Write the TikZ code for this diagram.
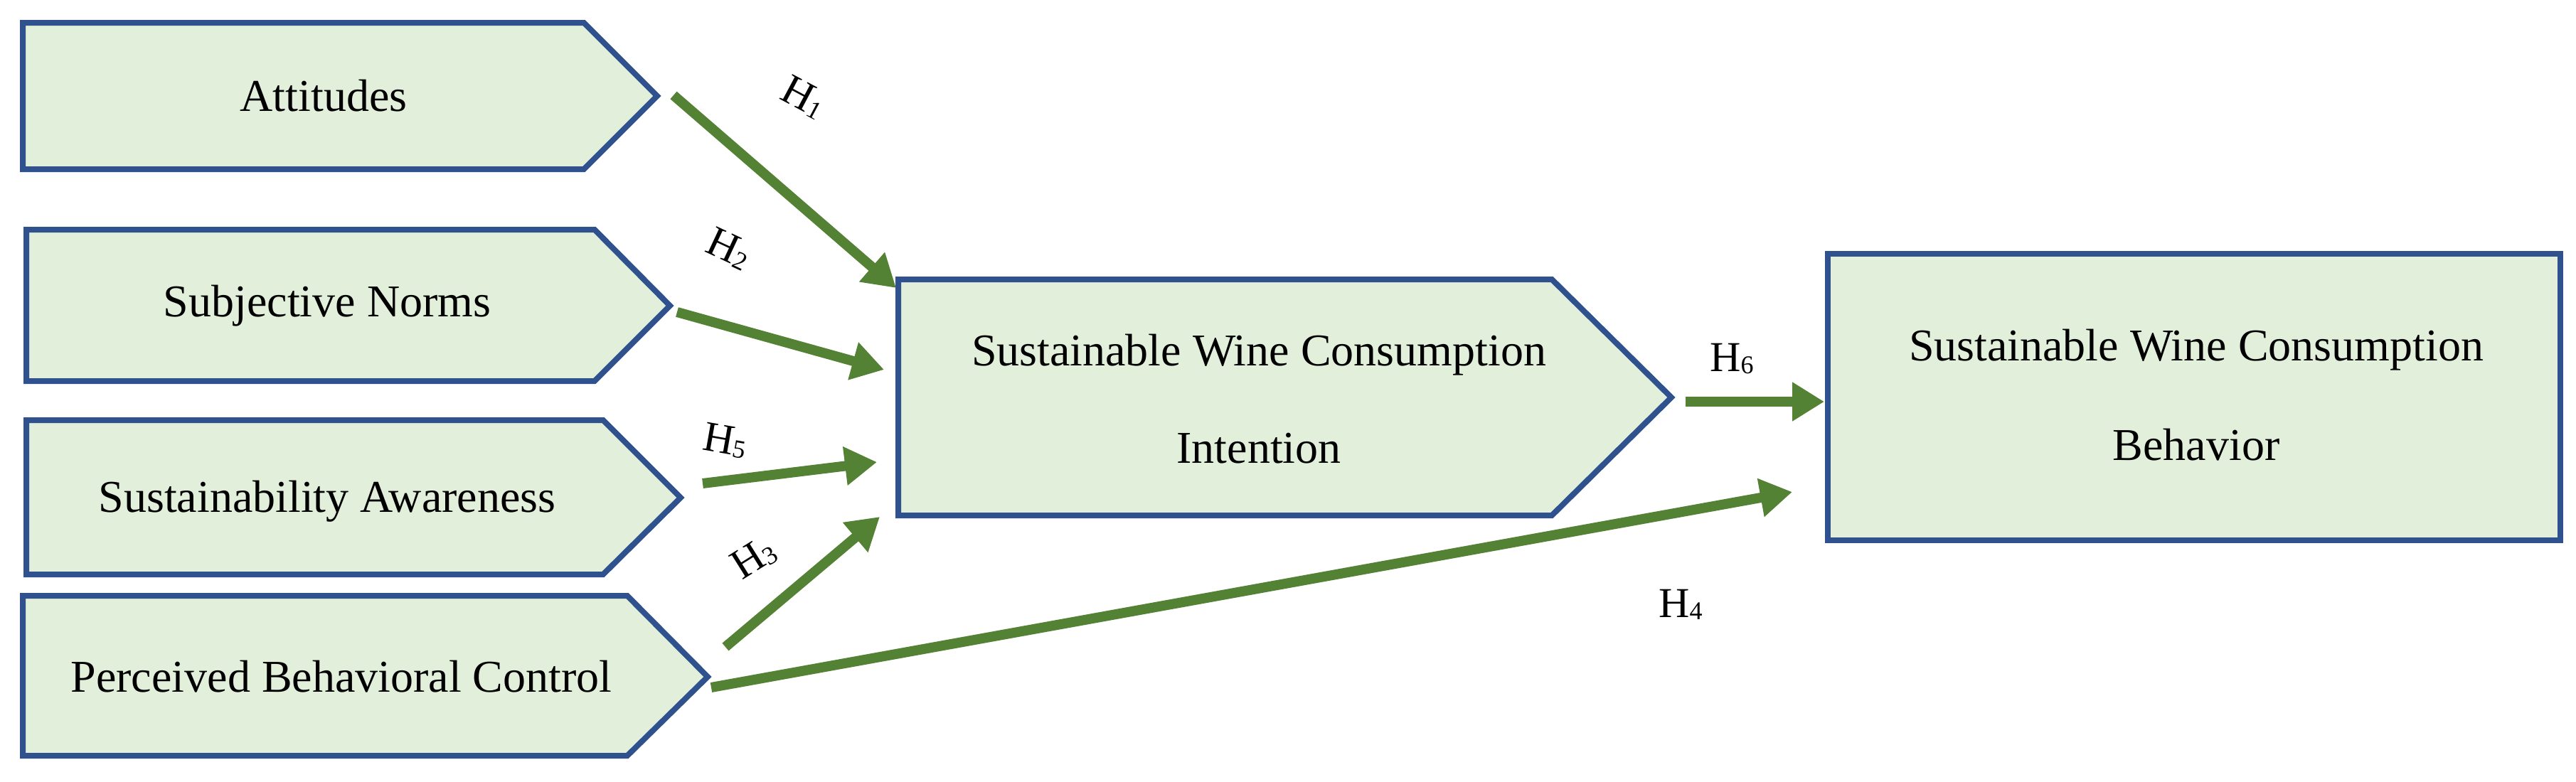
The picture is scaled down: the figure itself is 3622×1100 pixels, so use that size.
\documentclass[tikz,border=0pt]{standalone}
\usepackage{fontspec}
\setmainfont{Liberation Serif}
\usetikzlibrary{arrows.meta}
\definecolor{bord}{HTML}{2F528F}
\definecolor{fillg}{HTML}{E2EFDA}
\definecolor{arr}{HTML}{548235}
\tikzset{
  shp/.style={draw=bord,fill=fillg,line width=8pt,line join=miter},
  lbl/.style={font=\fontsize{64}{68}\selectfont,align=center},
  hyp/.style={font=\fontsize{60}{62}\selectfont,inner sep=2pt},
  link/.style={draw=arr,line width=14pt,-{Triangle[length=45pt,width=52pt]}}
}
\newcommand{\Hs}[1]{H\raisebox{-0.05em}{\fontsize{36}{36}\selectfont #1}}
\begin{document}
\begin{tikzpicture}[x=1pt,y=-1pt]
\useasboundingbox (0,0) rectangle (3622,1100);
% pentagons
\draw[shp] (32,32) -- (821,32) -- (924,135) -- (821,238) -- (32,238) -- cycle;
\draw[shp] (37,323) -- (836,323) -- (942,430) -- (836,536) -- (37,536) -- cycle;
\draw[shp] (37,591) -- (848,591) -- (957,700) -- (848,808) -- (37,808) -- cycle;
\draw[shp] (32,838) -- (882,838) -- (995,952) -- (882,1063) -- (32,1063) -- cycle;
\draw[shp] (1263,393) -- (2182,393) -- (2350,559) -- (2182,725) -- (1263,725) -- cycle;
\draw[shp] (2570,357) rectangle (3600,760);
% texts
\node[lbl] (att) at (455,135) {Attitudes};
\node[lbl] (sn) at (460,430) {Subjective Norms};
\node[lbl] (sa) at (460,705) {Sustainability Awareness};
\node[lbl] (pbc) at (480,952) {Perceived Behavioral Control};
\node[lbl] (int1) at (1770,499) {Sustainable Wine Consumption};
\node[lbl] (int2) at (1770,631) {Intention};
\node[lbl] (beh1) at (3088,492) {Sustainable Wine Consumption};
\node[lbl] (beh2) at (3088,626) {Behavior};
% connector endpoints
\coordinate (a1) at (947,134); \coordinate (a2) at (1260,405);
\coordinate (b1) at (952,439); \coordinate (b2) at (1243,520);
\coordinate (c1) at (988,680); \coordinate (c2) at (1233,650);
\coordinate (d1) at (1020,910); \coordinate (d2) at (1237,727);
\coordinate (e1) at (1000,967); \coordinate (e2) at (2520,692);
\coordinate (f1) at (2370,565); \coordinate (f2) at (2565,565);
\draw[link] (a1) -- (a2);
\draw[link] (b1) -- (b2);
\draw[link] (c1) -- (c2);
\draw[link] (d1) -- (d2);
\draw[link] (e1) -- (e2);
\draw[link] (f1) -- (f2);
% labels
\node[hyp,rotate=-28] (h1) at (1130,137) {\Hs{1}};
\node[hyp,rotate=-25] (h2) at (1025,350) {\Hs{2}};
\node[hyp,rotate=-10] (h5) at (1020,620) {\Hs{5}};
\node[hyp,rotate=32] (h3) at (1060,785) {\Hs{3}};
\node[hyp] (h4) at (2363,850) {\Hs{4}};
\node[hyp] (h6) at (2435,505) {\Hs{6}};
\end{tikzpicture}
\end{document}
